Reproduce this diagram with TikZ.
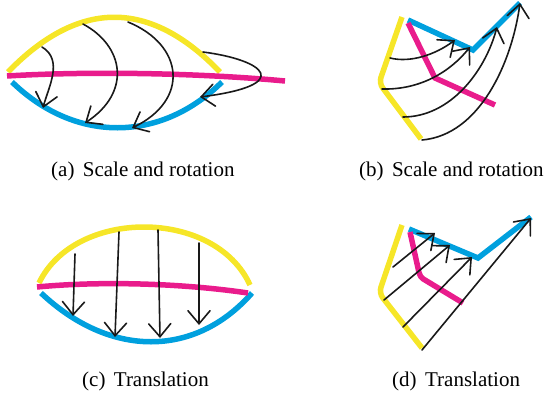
\documentclass[tikz,border=0pt]{standalone}
\usepackage{fontspec}
\setmainfont{Liberation Serif}
\usetikzlibrary{arrows.meta}
\definecolor{hlyellow}{RGB}{246,230,40}
\definecolor{hlpink}{RGB}{233,28,140}
\definecolor{hlblue}{RGB}{0,160,222}
\begin{document}
\begin{tikzpicture}[x=1pt,y=-1pt,>={Straight Barb[length=13pt,width=22pt,line cap=round]},
  band/.style={line width=5.5pt},
  flow/.style={->,line width=1.6pt,line cap=round,black!90},
  subcap/.style={anchor=base west,inner sep=0pt,font=\fontsize{21}{25}\selectfont}]
  \useasboundingbox (0,0) rectangle (549,394);
  % (a) curved source and target, bent arrows
  \draw[band,hlyellow] (8,72) .. controls (79,-1) and (150,-1) .. (220,72);
  \draw[band,hlblue] (12,82) .. controls (75,143) and (160,143) .. (222,82);
  \draw[band,hlpink] (7,76) .. controls (90,71) and (200,73) .. (285,81);
  \draw[flow] (42,47) .. controls (64,60) and (48,88) .. (43,108);
  \draw[flow] (83,24) .. controls (124,46) and (132,92) .. (85,123);
  \draw[flow] (128,22) .. controls (184,45) and (190,100) .. (132,128);
  \draw[flow] (203,52) .. controls (265,60) and (295,85) .. (200,97);
  \node[subcap] (capa) at (51,176) {(a)\hspace{0.4em}Scale and rotation};
  % (b) polylines, bent arrows
  \draw[band,hlyellow,rounded corners=6pt] (402,17) -- (379,83) -- (421,139);
  \draw[band,hlblue] (408,20) -- (473,50) -- (520,3);
  \draw[band,hlpink] (408,23) -- (435,78) -- (495,105);
  \draw[flow] (390,58) .. controls (410,63) and (435,55) .. (455,40);
  \draw[flow] (382,89) .. controls (420,90) and (450,72) .. (470,47);
  \draw[flow] (403,117) .. controls (450,117) and (485,72) .. (497,27);
  \draw[flow] (422,140) .. controls (480,135) and (512,62) .. (520,3);
  \node[subcap] (capb) at (359,176) {(b)\hspace{0.4em}Scale and rotation};
  % (c) curved source and target, straight arrows
  \draw[band,hlyellow] (39,283) .. controls (75,208) and (215,208) .. (250,285);
  \draw[band,hlblue] (41,293) .. controls (110,358) and (195,358) .. (252,293);
  \draw[band,hlpink] (37,287) .. controls (100,281) and (180,283) .. (248,293);
  \draw[flow] (75,254) -- (73,316);
  \draw[flow] (119,232) -- (115,337);
  \draw[flow] (158,230) -- (160,338);
  \draw[flow] (199,243) -- (199,325);
  \node[subcap] (capc) at (82,386) {(c)\hspace{0.4em}Translation};
  % (d) polylines, straight arrows
  \draw[band,hlyellow,rounded corners=6pt] (402,225) -- (379,293) -- (422,348);
  \draw[band,hlblue] (409,229) -- (478,258) -- (531,217);
  \draw[band,hlpink,rounded corners=4pt] (410,232) -- (420,277) -- (463,303);
  \draw[flow] (393,267) -- (435,233);
  \draw[flow] (384,300) -- (450,245);
  \draw[flow] (403,327) -- (472,257);
  \draw[flow] (422,350) -- (531,218);
  \node[subcap] (capd) at (392,386) {(d)\hspace{0.4em}Translation};
\end{tikzpicture}
\end{document}
